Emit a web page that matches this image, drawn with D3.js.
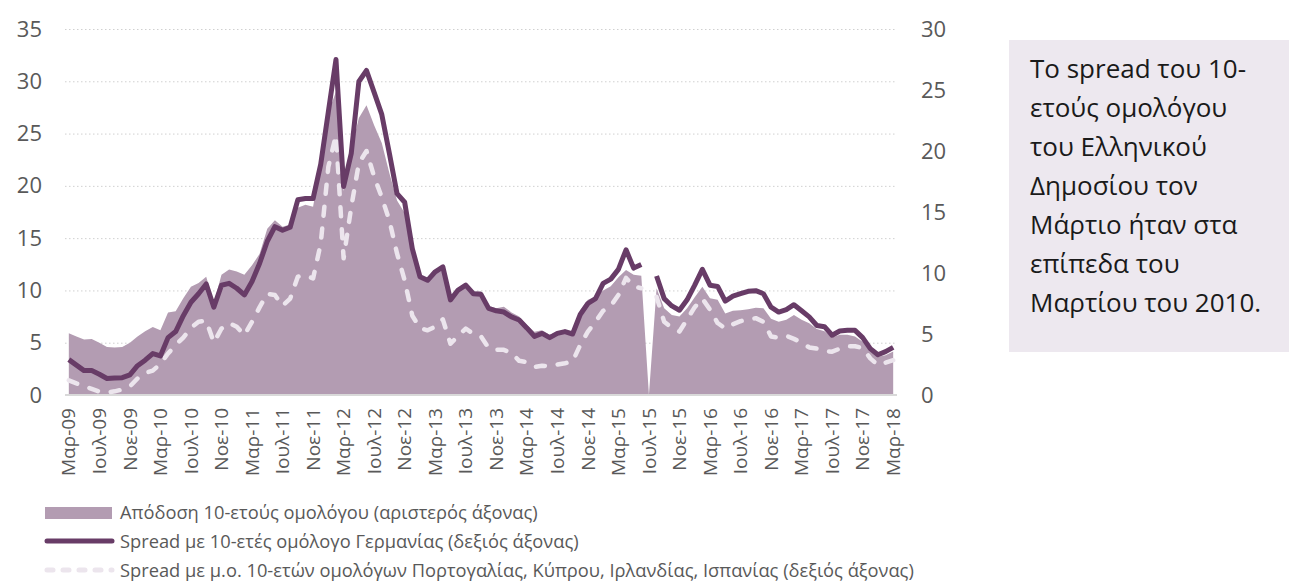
<!DOCTYPE html>
<html lang="el">
<head>
<meta charset="utf-8">
<script src="https://d3js.org/d3.v7.min.js"></script>
<style>
  body { margin: 0; background: #fff; }
  svg text { font-family: "Open Sans", sans-serif; }
  .grid line { stroke: #d0d0d0; stroke-dasharray: 1.5 2.5; }
  .grid path { display: none; }
</style>
</head>
<body>
<div id="chart"></div>
<script>
// months from Mar-09 to Mar-18 (109 points), Jul-15 missing
const monthNames = ["Ιαν","Φεβ","Μαρ","Απρ","Μαϊ","Ιουν","Ιουλ","Αυγ","Σεπ","Οκτ","Νοε","Δεκ"];
const startYear = 2009, startMonth = 2, nMonths = 109;

// Απόδοση 10-ετούς ομολόγου (left axis, %)
const yieldGR = [
  5.9, 5.6, 5.3, 5.35, 5.0, 4.6, 4.55, 4.6, 5.0, 5.6, 6.1, 6.5,
  6.2, 7.9, 8.0, 9.25, 10.35, 10.7, 11.3, 8.8, 11.5, 12.0, 11.8, 11.5,
  12.4, 13.5, 15.9, 16.7, 16.1, 16.3, 17.9, 18.2, 18.0, 22.1, 27.0, 29.0,
  19.5, 23.5, 26.5, 27.7, 25.8, 24.1, 21.2, 18.6, 17.4, 13.5, 11.3, 11.0,
  11.8, 12.2, 9.5, 10.0, 10.3, 9.9, 9.9, 8.5, 8.3, 8.45, 7.9, 7.5,
  6.7, 6.05, 6.2, 5.75, 6.05, 6.05, 5.9, 8.1, 9.1, 9.4, 10.0, 10.4,
  11.25, 11.95, 11.5, 11.4, null, 10.2, 8.3, 7.65, 7.5, 8.3, 9.35, 10.35,
  9.25, 9.1, 7.8, 8.05, 8.1, 8.2, 8.35, 8.3, 7.3, 7.0, 7.2, 7.65,
  7.2, 6.85, 6.3, 6.1, 5.5, 5.75, 5.75, 5.6, 5.1, 4.45, 3.65, 3.8,
  4.15
];

// Spread με 10-ετές ομόλογο Γερμανίας (right axis)
const spreadDE = [
  2.9, 2.45, 2.0, 2.0, 1.7, 1.35, 1.4, 1.42, 1.65, 2.4, 2.85, 3.4,
  3.2, 4.7, 5.2, 6.5, 7.6, 8.3, 9.1, 7.2, 9.0, 9.15, 8.75, 8.2,
  9.3, 10.8, 12.6, 13.8, 13.5, 13.75, 16.0, 16.1, 16.1, 18.9, 23.2, 27.5,
  17.1, 19.8, 25.7, 26.6, 24.8, 23.0, 19.8, 16.5, 15.8, 12.0, 9.7, 9.4,
  10.1, 10.5, 7.8, 8.6, 9.0, 8.3, 8.25, 7.1, 6.9, 6.8, 6.4, 6.15,
  5.5, 4.8, 5.05, 4.7, 5.05, 5.2, 5.0, 6.6, 7.5, 7.9, 9.15, 9.5,
  10.3, 11.9, 10.4, 10.7, null, 9.75, 7.9, 7.3, 6.95, 7.8, 9.0, 10.3,
  9.0, 8.9, 7.7, 8.1, 8.3, 8.5, 8.55, 8.3, 7.2, 6.8, 7.0, 7.4,
  6.9, 6.4, 5.7, 5.6, 4.9, 5.25, 5.3, 5.3, 4.7, 3.8, 3.3, 3.55,
  3.9
];

// Spread με μ.ο. Πορτογαλίας, Κύπρου, Ιρλανδίας, Ισπανίας (right axis)
const spreadPeriph = [
  1.2, 0.95, 0.72, 0.5, 0.28, 0.2, 0.3, 0.45, 0.7, 1.35, 1.8, 2.0,
  2.55, 3.4, 4.1, 4.7, 5.5, 6.0, 6.1, 4.3, 5.45, 5.9, 5.6, 4.9,
  6.0, 7.2, 8.3, 8.2, 7.3, 7.9, 9.7, 9.8, 9.55, 12.4, 18.7, 21.3,
  11.2, 15.4, 19.0, 20.0, 17.9, 16.2, 14.3, 11.6, 9.4, 6.5, 5.5, 5.3,
  5.6, 6.2, 4.2, 4.85, 5.45, 5.0, 4.8, 3.85, 3.7, 3.7, 3.45, 2.8,
  2.7, 2.3, 2.4, 2.35, 2.5, 2.6, 2.75, 4.1, 5.2, 6.0, 6.9, 7.3,
  8.2, 9.6, 8.9, 8.75, null, 8.05, 6.0, 5.5, 5.2, 6.2, 7.2, 7.9,
  7.0, 5.9, 5.45, 5.8, 6.05, 6.2, 6.3, 6.0, 4.8, 4.7, 4.85, 4.6,
  4.3, 3.9, 3.8, 3.6, 3.55, 3.8, 4.0, 4.0, 3.85, 3.0, 2.45, 2.65,
  2.85
];

const leftTicks = [0, 5, 10, 15, 20, 25, 30, 35];
const rightTicks = [0, 5, 10, 15, 20, 25, 30];
const legendLabels = [
  "Απόδοση 10-ετούς ομολόγου (αριστερός άξονας)",
  "Spread με 10-ετές ομόλογο Γερμανίας (δεξιός άξονας)",
  "Spread με μ.ο. 10-ετών ομολόγων Πορτογαλίας, Κύπρου, Ιρλανδίας, Ισπανίας (δεξιός άξονας)"
];
const noteLines = [
  "Το spread του 10-",
  "ετούς ομολόγου",
  "του Ελληνικού",
  "Δημοσίου τον",
  "Μάρτιο ήταν στα",
  "επίπεδα του",
  "Μαρτίου του 2010."
];

// category labels like "Μαρ-09"
const categories = d3.range(nMonths).map(i => {
  const m = (startMonth + i) % 12;
  const y = startYear + Math.floor((startMonth + i) / 12);
  return monthNames[m] + "-" + String(y % 100).padStart(2, "0");
});

const W = 1289, H = 581;
const plot = { left: 65, right: 897, top: 29, bottom: 395 };

const svg = d3.select("#chart").append("svg")
  .attr("width", W).attr("height", H);

const x = d3.scaleBand().domain(categories).range([plot.left, plot.right]);
const xc = i => x(categories[i]) + x.bandwidth() / 2;
const yL = d3.scaleLinear().domain([0, 35]).range([plot.bottom, plot.top]);
const yR = d3.scaleLinear().domain([0, 30]).range([plot.bottom, plot.top]);

// gridlines (left axis)
svg.append("g")
  .attr("class", "grid")
  .attr("transform", `translate(${plot.left},0)`)
  .call(d3.axisLeft(yL).tickValues(leftTicks.slice(1)).tickSize(-(plot.right - plot.left)).tickFormat(""));

// area
const area = d3.area()
  .x((d, i) => xc(i))
  .y0(yL(0))
  .y1(d => yL(d == null ? 0 : d));
svg.append("path")
  .datum(yieldGR)
  .attr("d", area)
  .attr("fill", "#b39cb2");

// baseline
svg.append("line")
  .attr("x1", plot.left).attr("x2", plot.right)
  .attr("y1", plot.bottom).attr("y2", plot.bottom)
  .attr("stroke", "#d9d9d9").attr("stroke-width", 2);

// dashed periphery spread
const lineR = d3.line()
  .defined(d => d != null)
  .x((d, i) => xc(i))
  .y(d => yR(d));
svg.append("path")
  .datum(spreadPeriph)
  .attr("d", lineR)
  .attr("fill", "none")
  .attr("stroke", "#ece5ed")
  .attr("stroke-width", 4.5)
  .attr("stroke-linecap", "round")
  .attr("stroke-linejoin", "round")
  .attr("stroke-dasharray", "9,13");

// spread vs Germany
svg.append("path")
  .datum(spreadDE)
  .attr("d", lineR)
  .attr("fill", "none")
  .attr("stroke", "#683c67")
  .attr("stroke-width", 5)
  .attr("stroke-linejoin", "round");

// left axis labels
const axL = svg.append("g")
  .attr("transform", `translate(${plot.left},0)`)
  .call(d3.axisLeft(yL).tickValues(leftTicks).tickSize(0).tickPadding(23));
axL.select(".domain").remove();
axL.selectAll("text").attr("font-size", 22).attr("fill", "#595959").style("font-family", "Open Sans");

// right axis labels
const axR = svg.append("g")
  .attr("transform", `translate(${plot.right},0)`)
  .call(d3.axisRight(yR).tickValues(rightTicks).tickSize(0).tickPadding(24));
axR.select(".domain").remove();
axR.selectAll("text").attr("font-size", 22).attr("fill", "#595959").style("font-family", "Open Sans");

// x axis labels, every 4th month, rotated
const axX = svg.append("g")
  .attr("transform", `translate(0,${plot.bottom})`)
  .call(d3.axisBottom(x).tickValues(categories.filter((c, i) => i % 4 === 0)).tickSize(0));
axX.select(".domain").remove();
axX.selectAll("text")
  .attr("font-size", 19)
  .attr("fill", "#595959")
  .style("font-family", "Open Sans")
  .attr("text-anchor", "end")
  .attr("dy", "0.35em")
  .attr("transform", "translate(0,13) rotate(-90)")
  .attr("x", 0).attr("y", 0);

// legend
const lg = svg.append("g").attr("transform", "translate(45,0)");
lg.append("rect").attr("x", 0).attr("y", 507).attr("width", 67).attr("height", 12).attr("fill", "#b39cb2");
lg.append("line").attr("x1", 2).attr("x2", 67).attr("y1", 541).attr("y2", 541)
  .attr("stroke", "#683c67").attr("stroke-width", 5).attr("stroke-linecap", "round");
lg.append("line").attr("x1", 2).attr("x2", 67).attr("y1", 570).attr("y2", 570)
  .attr("stroke", "#ece5ed").attr("stroke-width", 5).attr("stroke-linecap", "round")
  .attr("stroke-dasharray", "6,10");
lg.selectAll("text.lab")
  .data(legendLabels)
  .join("text")
  .attr("class", "lab")
  .attr("x", 75)
  .attr("y", (d, i) => 513 + i * 29)
  .attr("dy", "0.35em")
  .attr("font-size", 18.3)
  .attr("fill", "#595959")
  .text(d => d);

// annotation box
svg.append("rect")
  .attr("x", 1009).attr("y", 40).attr("width", 280).attr("height", 312)
  .attr("fill", "#ede8ef");
svg.append("g").selectAll("text")
  .data(noteLines)
  .join("text")
  .attr("x", 1030)
  .attr("y", (d, i) => 78 + i * 39)
  .attr("font-size", 26)
  .attr("fill", "#1a1a1a")
  .text(d => d);
</script>
</body>
</html>
